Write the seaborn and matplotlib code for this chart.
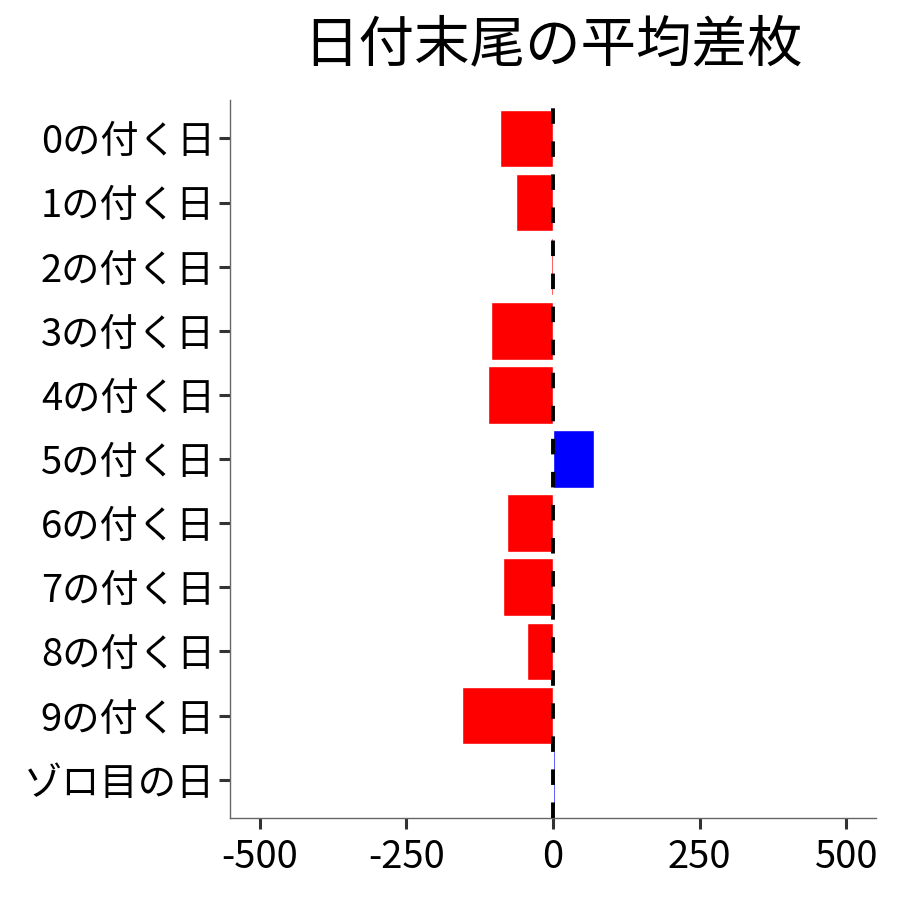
import numpy as np
import matplotlib
matplotlib.use("Agg")
import matplotlib.pyplot as plt
import seaborn as sns
import pandas as pd

categories = ["0の付く日", "1の付く日", "2の付く日", "3の付く日", "4の付く日",
              "5の付く日", "6の付く日", "7の付く日", "8の付く日", "9の付く日", "ゾロ目の日"]
diff_values = [-90, -63, -3, -105, -111, 70, -78, -85, -44, -155, 2.5]
x_ticks = [-500, -250, 0, 250, 500]

sns.set_style("white")
plt.rcParams['font.family'] = ['Noto Sans CJK JP', 'DejaVu Sans']

df = pd.DataFrame({"label": categories, "diff": diff_values})
df["sign"] = np.where(df["diff"] >= 0, "plus", "minus")

fig = plt.figure(figsize=(9, 9), dpi=100)
ax = fig.add_axes([0.256, 0.091, 0.717, 0.798])

sns.barplot(data=df, x="diff", y="label", hue="sign", order=categories,
            palette={"plus": "#0000ff", "minus": "#ff0000"},
            dodge=False, width=0.9, legend=False, saturation=1, ax=ax)
ax.axvline(0, color="black", linestyle=(0, (4, 4.5)), linewidth=2.8, zorder=5)

ax.set_xlim(-550, 550)
ax.set_ylim(10.6, -0.6)
ax.set_xticks(x_ticks)
ax.set_xticklabels([str(v) for v in x_ticks])
ax.set_xlabel("")
ax.set_ylabel("")
ax.tick_params(axis="both", labelsize=27.5, colors="#333333", length=8, width=2.2,
               direction="out", bottom=True, left=True, pad=3)
ax.tick_params(axis="x", pad=6)
for lab in ax.get_xticklabels() + ax.get_yticklabels():
    lab.set_color("black")
sns.despine(ax=ax)
for side in ["left", "bottom"]:
    ax.spines[side].set_color("#666666")
    ax.spines[side].set_linewidth(1)

ax.set_title("日付末尾の平均差枚", fontsize=40, pad=28, color="black")

fig.savefig("out.png", dpi=100)
